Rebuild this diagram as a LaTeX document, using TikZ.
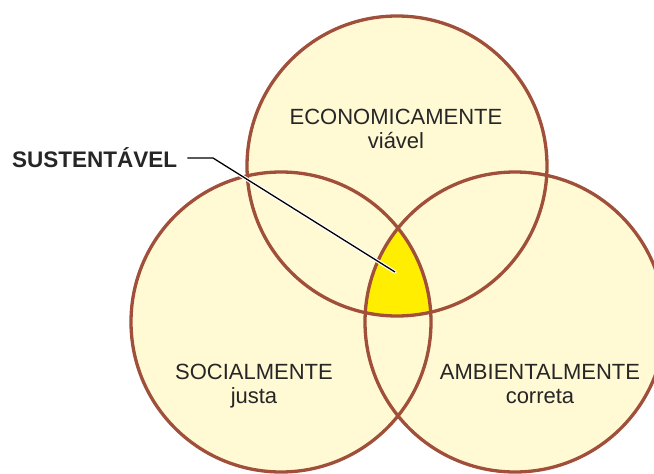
\documentclass[tikz,border=0pt]{standalone}
\usepackage{fontspec}
\setmainfont{Liberation Sans}
\definecolor{cream}{HTML}{FFF9D4}
\definecolor{rim}{HTML}{A0503A}
\definecolor{core}{HTML}{FFEE00}

\tikzset{
  circlelabel/.style={align=center, inner sep=0pt, text=black!85, font=\fontsize{22}{24}\selectfont},
}

\begin{document}
\begin{tikzpicture}[x=1pt, y=-1pt]
    \useasboundingbox (0,0) rectangle (654,474);
    \clip (0,0) rectangle (654,474);
    \coordinate (top) at (397,166);
    \coordinate (left) at (281,322);
    \coordinate (right) at (515,322);
    \def\setradius{150}

    \fill[cream] (top) circle (\setradius);
    \fill[cream] (left) circle (\setradius);
    \fill[cream] (right) circle (\setradius);

    % intersection of the three sets
    \begin{scope}
        \clip (top) circle (\setradius);
        \clip (left) circle (\setradius);
        \fill[core] (right) circle (\setradius);
    \end{scope}

    \draw[rim, line width=3.3pt] (top) circle (\setradius);
    \draw[rim, line width=3.3pt] (left) circle (\setradius);
    \draw[rim, line width=3.3pt] (right) circle (\setradius);

    \node[circlelabel, anchor=base] (eco) at (396,148) {ECONOMICAMENTE\\vi\'avel};
    \node[circlelabel, anchor=base] (soc) at (254,403) {SOCIALMENTE\\justa};
    \node[circlelabel, anchor=base] (amb) at (540,403) {AMBIENTALMENTE\\correta};

    \node[inner sep=0pt, anchor=west, font=\fontsize{22.5}{24}\selectfont\bfseries, text=black!85] (sust) at (12,158) {SUSTENT\'AVEL};
    \coordinate (bend) at (213,158);
    \coordinate (tip) at (395,272);

    \draw[white, line width=3.6pt, line cap=round] (bend) -- (tip); % halo
    \draw[black, line width=1.3pt] ([xshift=10pt]sust.east) -- (bend) -- (tip);
\end{tikzpicture}
\end{document}
